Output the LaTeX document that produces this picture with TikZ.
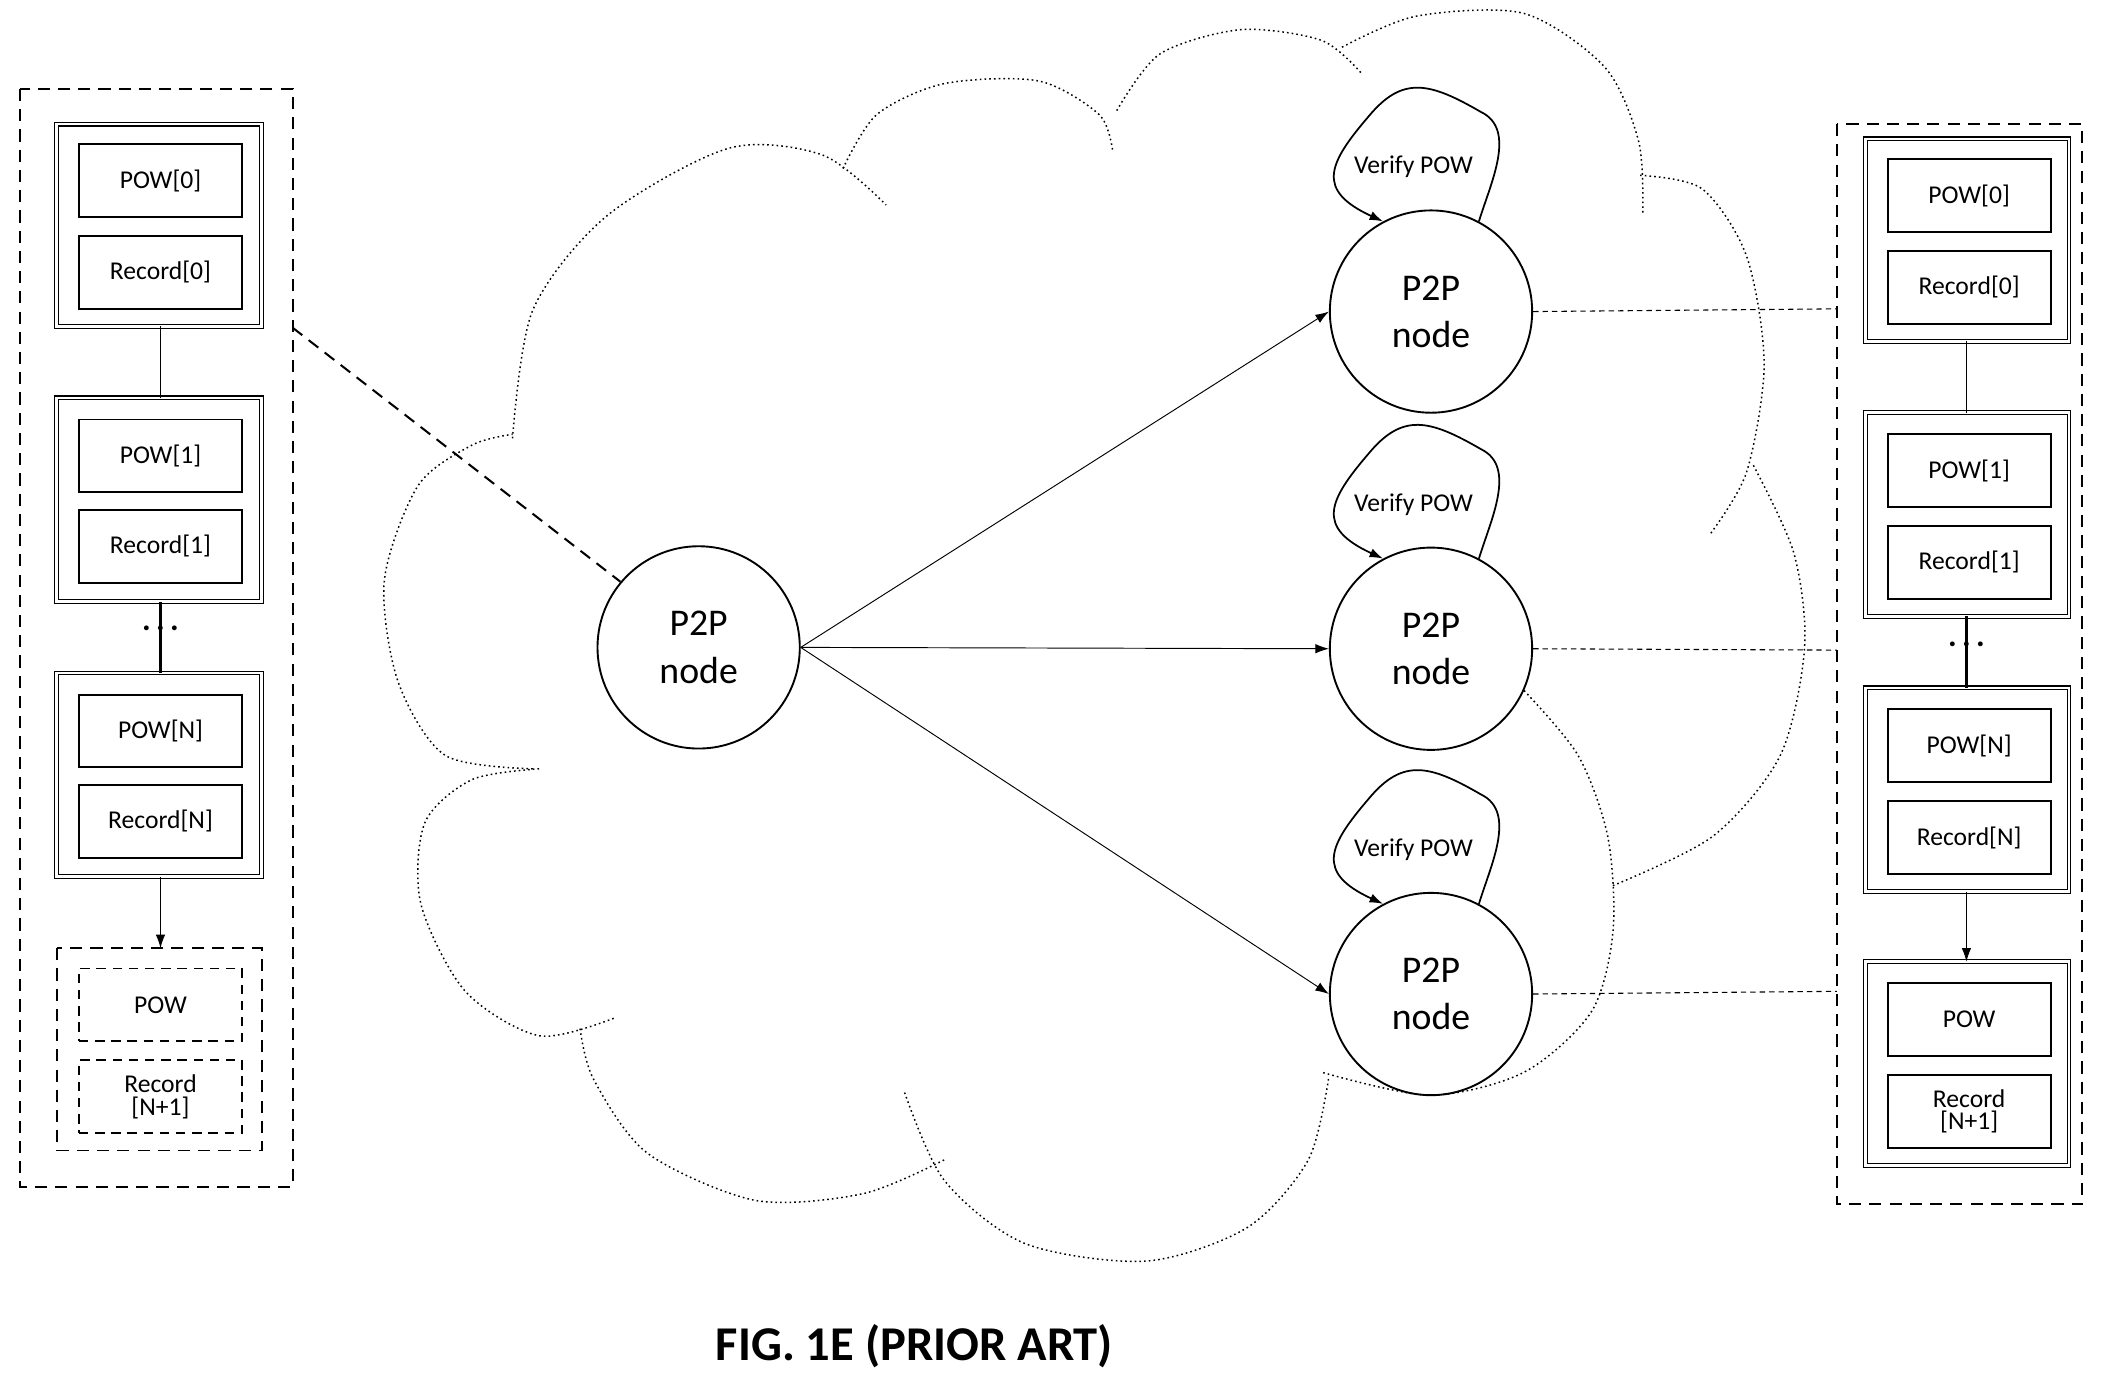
\documentclass[tikz,border=0pt]{standalone}
\usepackage{fontspec}
\setmainfont{Carlito}
\usetikzlibrary{arrows.meta}
\begin{document}
\begin{tikzpicture}[x=1pt,y=-1pt,
  blk/.style={draw,double,double distance=2pt,line width=0.8pt},
  bigdash/.style={dash pattern=on 9pt off 6pt,line width=1.5pt},
  inb/.style={draw,line width=1.4pt,minimum width=121pt,minimum height=54pt,font=\fontsize{19}{20}\selectfont,align=center,inner sep=0},
  inbd/.style={draw,dash pattern=on 7pt off 5pt,line width=1.1pt,minimum width=121pt,minimum height=54pt,font=\fontsize{19}{20}\selectfont,align=center,inner sep=0},
  p2p/.style={circle,draw,line width=1.4pt,minimum size=150pt,font=\fontsize{28}{35}\selectfont,align=center,inner sep=0},
  cl/.style={dash pattern=on 1.2pt off 2.3pt,line width=1.1pt},
  arr/.style={-{Latex[length=10pt,width=7pt]},line width=0.7pt},
  dts/.style={font=\bfseries\fontsize{24}{20}\selectfont,inner sep=0}]
\useasboundingbox (0,0) rectangle (1560,1026);
% left panel
\draw[bigdash] (15,66) rectangle (217,880);
\draw[blk] (42,92) rectangle (194,242);
\draw[blk] (42,295) rectangle (194,446);
\draw[blk] (42,499) rectangle (194,650);
\draw[bigdash,line width=1.3pt] (42,703) rectangle (194,853);
\node[inb] (lp0) at (119,134) {POW[0]};
\node[inb] (lr0) at (119,202) {Record[0]};
\node[inb] (lp1) at (119,338) {POW[1]};
\node[inb] (lr1) at (119,405) {Record[1]};
\node[inb] (lpn) at (119,542) {POW[N]};
\node[inb] (lrn) at (119,609) {Record[N]};
\node[inbd] (lpx) at (119,745) {POW};
\node[inbd] (lrx) at (119,813) {Record\\[-3pt][N+1]};
\coordinate (lb0) at (119,242); \coordinate (lt1) at (119,295);
\coordinate (lb1) at (119,446); \coordinate (ltn) at (119,499);
\coordinate (lbn) at (119,650); \coordinate (ltx) at (119,703);
\draw[line width=0.8pt] (lb0) -- (lt1);
\draw[line width=2.2pt] (lb1) -- (ltn);
\node[dts] (ldots) at (119,466) {.\,.\,.};
\draw[arr] (lbn) -- (ltx);
% right panel
\draw[bigdash] (1362,92) rectangle (1544,893);
\draw[blk] (1383,103) rectangle (1534,253);
\draw[blk] (1383,306) rectangle (1534,457);
\draw[blk] (1383,510) rectangle (1534,661);
\draw[blk] (1383,713) rectangle (1534,864);
\node[inb] (rp0) at (1460,145) {POW[0]};
\node[inb] (rr0) at (1460,213) {Record[0]};
\node[inb] (rp1) at (1460,349) {POW[1]};
\node[inb] (rr1) at (1460,417) {Record[1]};
\node[inb] (rpn) at (1460,553) {POW[N]};
\node[inb] (rrn) at (1460,621) {Record[N]};
\node[inb] (rpx) at (1460,756) {POW};
\node[inb] (rrx) at (1460,824) {Record\\[-3pt][N+1]};
\coordinate (rb0) at (1458,253); \coordinate (rt1) at (1458,306);
\coordinate (rb1) at (1458,457); \coordinate (rtn) at (1458,510);
\coordinate (rbn) at (1458,661); \coordinate (rtx) at (1458,713);
\draw[line width=0.8pt] (rb0) -- (rt1);
\draw[line width=2.2pt] (rb1) -- (rtn);
\node[dts] (rdots) at (1458,478) {.\,.\,.};
\draw[arr] (rbn) -- (rtx);
% cloud
\draw[cl] plot[smooth] coordinates {(380,325)(395,230)(450,160)(540,110)(610,115)(657,152)};
\draw[cl] plot[smooth] coordinates {(625,125)(650,85)(700,62)(770,60)(815,85)(825,112)};
\draw[cl] plot[smooth] coordinates {(828,82)(860,40)(920,22)(980,30)(1010,55)};
\draw[cl] plot[smooth] coordinates {(995,35)(1050,12)(1130,10)(1190,50)(1215,105)(1218,158)};
\draw[cl] plot[smooth] coordinates {(1216,130)(1262,140)(1295,190)(1308,270)(1295,350)(1268,396)};
\draw[cl] plot[smooth] coordinates {(1300,345)(1330,410)(1338,480)(1320,560)(1270,620)(1195,657)};
\draw[cl] plot[smooth] coordinates {(1130,512)(1170,560)(1192,620)(1196,690)(1180,750)(1130,795)(1060,812)(980,795)};
\draw[cl] plot[smooth] coordinates {(985,800)(970,860)(925,910)(850,935)(760,922)(700,875)(670,808)};
\draw[cl] plot[smooth] coordinates {(700,860)(640,885)(560,890)(480,855)(440,800)(430,762)};
\draw[cl] plot[smooth] coordinates {(455,755)(400,768)(345,735)(312,670)(315,610)(350,578)(400,570)};
\draw[cl] plot[smooth] coordinates {(395,570)(330,560)(295,505)(285,430)(310,360)(350,330)(380,322)};
% P2P nodes
\node[p2p] (n0) at (518,480) {P2P\\node};
\node[p2p] (n1) at (1061,231) {P2P\\node};
\node[p2p] (n2) at (1061,481) {P2P\\node};
\node[p2p] (n3) at (1061,737) {P2P\\node};
\draw[arr] (n0.east) -- (n1.west);
\draw[arr] (n0.east) -- (n2.west);
\draw[arr] (n0.east) -- (n3.west);
% verify loops
\foreach \n/\y in {n1/231,n2/481,n3/737}{
  \node[font=\fontsize{19}{20}\selectfont] (v\n) at (1048,\y-107) {Verify POW};
  \draw[arr,line width=1.3pt] (\n.62) .. controls (1105,\y-95) and (1125,\y-135) .. (1098,\y-148)
     .. controls (1060,\y-170) and (1040,\y-175) .. (1015,\y-145)
     .. controls (985,\y-110) and (975,\y-90) .. (\n.118);
}
% connectors
\coordinate (lp) at (217,243);
\draw[bigdash] (lp) -- (n0.140);
\coordinate (rc1) at (1362,229); \coordinate (rc2) at (1362,482); \coordinate (rc3) at (1362,735);
\draw[dash pattern=on 4pt off 3pt,line width=0.8pt] (n1.east) -- (rc1);
\draw[dash pattern=on 4pt off 3pt,line width=0.8pt] (n2.east) -- (rc2);
\draw[dash pattern=on 4pt off 3pt,line width=0.8pt] (n3.east) -- (rc3);
\node[font=\bfseries\fontsize{36}{40}\selectfont] (cap) at (678,998) {FIG. 1E (PRIOR ART)};
\end{tikzpicture}
\end{document}
